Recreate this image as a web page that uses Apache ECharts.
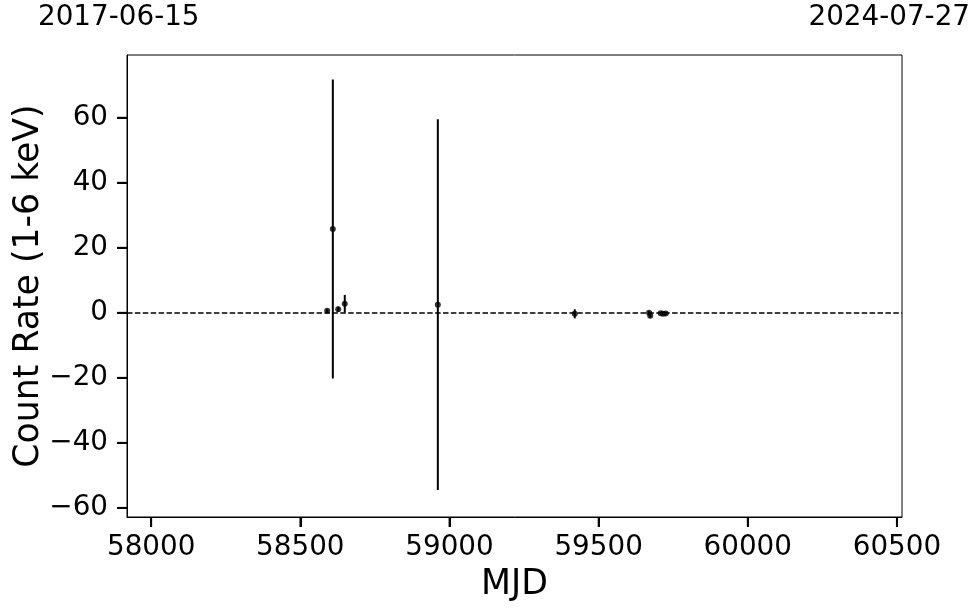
<!DOCTYPE html>
<html>
<head>
<meta charset="utf-8">
<script src="https://cdn.jsdelivr.net/npm/echarts@6/dist/echarts.min.js"></script>
<style>
html,body{margin:0;padding:0;background:#fff;}
#chart{width:980px;height:613px;}
</style>
</head>
<body>
<div id="chart"></div>
<script>
// Data
var mjd  = [58590, 58609, 58627, 58649, 58961, 59420, 59669, 59673, 59708, 59716, 59725];
var rate = [0.6, 25.8, 1.1, 2.8, 2.5, -0.3, 0.0, -0.9, -0.1, -0.3, -0.2];
var err  = [0.5, 46.0, 0.8, 2.7, 57.0, 1.4, 0.5, 0.6, 0.4, 0.4, 0.4];
var xTicks = [58000, 58500, 59000, 59500, 60000, 60500];
var yTicks = [-60, -40, -20, 0, 20, 40, 60];
var xRange = [57919, 60517];
var yRange = [-62.8, 79.3];
var startDate = '2017-06-15';
var endDate = '2024-07-27';
var xTitle = 'MJD';
var yTitle = 'Count Rate (1-6 keV)';

var points = mjd.map(function(m, i){ return [m, rate[i]]; });
var bars = mjd.map(function(m, i){ return [m, rate[i] - err[i], rate[i] + err[i]]; });
var xTickData = xTicks.map(function(v){ return [v, yRange[0]]; });
var yTickData = yTicks.map(function(v){ return [xRange[0], v]; });
var font = 'DejaVu Sans';
function fmt(v){ return String(v).replace('-', '\u2212'); }

var chart = echarts.init(document.getElementById('chart'));
chart.setOption({
  animation: false,
  backgroundColor: '#fff',
  title: [
    { text: startDate, left: 38, top: 4, padding: 0, textStyle: { fontFamily: font, fontSize: 27.8, fontWeight: 'normal', color: '#000' } },
    { text: endDate, right: 10, top: 4, padding: 0, textStyle: { fontFamily: font, fontSize: 27.8, fontWeight: 'normal', color: '#000' } }
  ],
  grid: { left: 127, right: 78, top: 55, bottom: 96, containLabel: false, outerBoundsMode: 'none',
          show: true, borderColor: '#000', borderWidth: 1, backgroundColor: 'transparent' },
  xAxis: {
    type: 'value', min: xRange[0], max: xRange[1],
    name: xTitle, nameLocation: 'middle', nameGap: 50, nameMoveOverlap: false,
    nameTextStyle: { fontFamily: font, fontSize: 34.7, color: '#000' },
    axisLine: { show: true, onZero: false, lineStyle: { color: '#000', width: 1 } },
    splitLine: { show: false },
    axisTick: { show: true, inside: false, length: 10, lineStyle: { color: '#000', width: 2 }, customValues: xTicks },
    axisLabel: { fontFamily: font, fontSize: 27.8, color: '#000', margin: 17, customValues: xTicks, formatter: fmt }
  },
  yAxis: {
    type: 'value', min: yRange[0], max: yRange[1],
    name: yTitle, nameLocation: 'middle', nameGap: 81, nameMoveOverlap: false,
    nameTextStyle: { fontFamily: font, fontSize: 34.7, color: '#000' },
    axisLine: { show: true, onZero: false, lineStyle: { color: '#000', width: 1 } },
    splitLine: { show: false },
    axisTick: { show: true, inside: false, length: 10, lineStyle: { color: '#000', width: 2 }, customValues: yTicks },
    axisLabel: { fontFamily: font, fontSize: 27.8, color: '#000', margin: 19, customValues: yTicks, formatter: fmt }
  },
  series: [
    {
      // outward x tick marks, positioned by the axis scale
      type: 'scatter', data: xTickData, clip: false, silent: true, z: 6,
      symbol: 'rect', symbolSize: [2, 10], symbolOffset: [0, 5],
      itemStyle: { color: '#000' }
    },
    {
      // outward y tick marks, positioned by the axis scale
      type: 'scatter', data: yTickData, clip: false, silent: true, z: 6,
      symbol: 'rect', symbolSize: [10, 2], symbolOffset: [-5, 0],
      itemStyle: { color: '#000' }
    },
    {
      type: 'custom',
      data: bars,
      encode: { x: 0, y: [1, 2] },
      z: 3,
      renderItem: function(params, api){
        var lo = api.coord([api.value(0), api.value(1)]);
        var hi = api.coord([api.value(0), api.value(2)]);
        return { type: 'line', shape: { x1: lo[0], y1: lo[1], x2: hi[0], y2: hi[1] }, style: { stroke: '#000', lineWidth: 2 } };
      }
    },
    {
      type: 'scatter',
      data: points,
      symbol: 'circle',
      symbolSize: 6,
      itemStyle: { color: '#000' },
      z: 4,
      markLine: {
        silent: true, symbol: ['none', 'none'], label: { show: false },
        lineStyle: { color: '#000', type: [5.5, 2.4], width: 1.5 },
        data: [{ yAxis: 0 }]
      }
    }
  ]
});
</script>
</body>
</html>
